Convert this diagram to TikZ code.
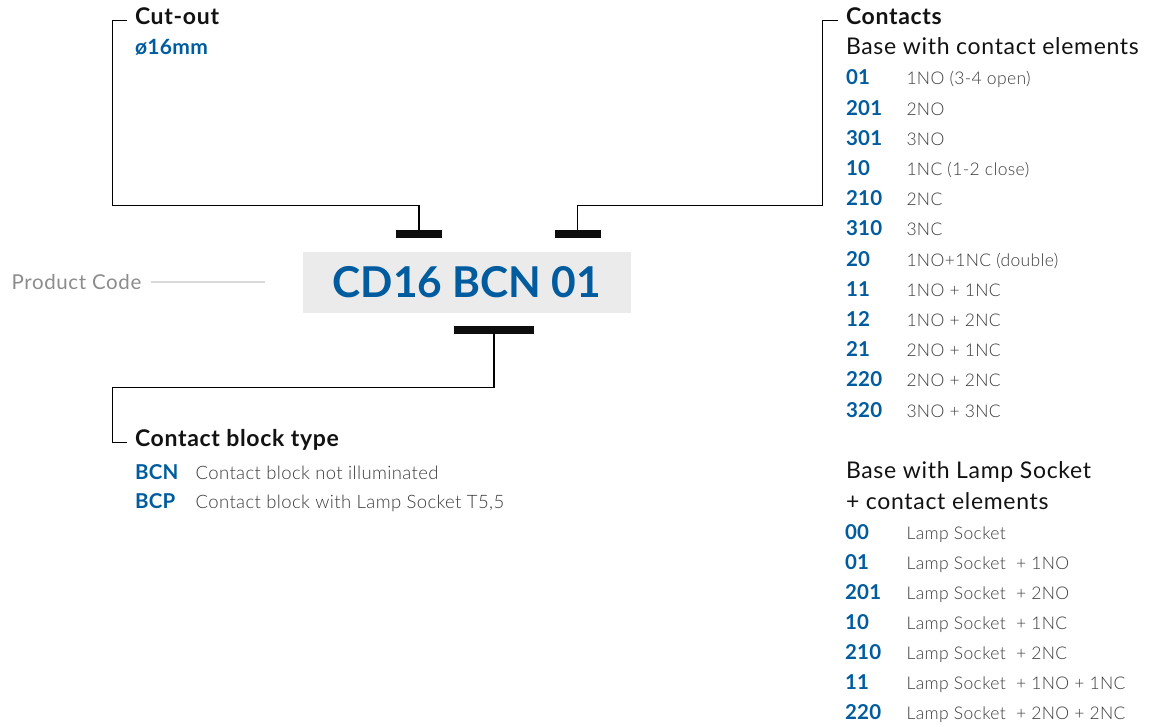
\documentclass[tikz,border=0pt]{standalone}
\usepackage{fontspec}
\setmainfont{Lato}
\newfontfamily\latotrack{Lato}[LetterSpace=3.0]
\newfontfamily\latocode{Lato}[LetterSpace=1.5]
\newfontfamily\latolight{Lato Light}[LetterSpace=2.0]
\definecolor{codeblue}{HTML}{005C9E}
\definecolor{boxgray}{HTML}{EBEBEB}
\definecolor{desctext}{HTML}{3A3A3A}
\definecolor{pcgray}{HTML}{8C8C8C}
\definecolor{pclinecol}{HTML}{D9D9D9}
\begin{document}
\begin{tikzpicture}[x=1pt,y=-1pt,
 txt/.style={anchor=base west, inner sep=0pt, outer sep=0pt},
 head/.style={txt, font=\latotrack\fontsize{23}{27}\selectfont\bfseries, text=black!93},
 sub/.style={txt, font=\latotrack\fontsize{23}{27}\selectfont, text=black!93},
 codetxt/.style={txt, font=\latocode\fontsize{20.5}{24}\selectfont\bfseries, text=codeblue},
 desctxt/.style={txt, font=\latolight\fontsize{17.5}{21}\selectfont, text=desctext},
 bigdesc/.style={txt, font=\latolight\fontsize{18.5}{22}\selectfont, text=desctext},
 conn/.style={draw=black, line width=1.3pt},
 bar/.style={fill=black!95, draw=none, inner sep=0pt, minimum height=7.5pt},
 pcline/.style={draw=pclinecol, line width=2pt},
]
\useasboundingbox (0,0) rectangle (1157,727);

% product code box
\node[fill=boxgray, minimum width=328.3pt, minimum height=61pt, inner sep=0pt,
      text=codeblue, font=\fontsize{42.5}{50}\selectfont\bfseries] (code) at (466.85,282.2) {CD16 BCN 01};
\node[txt, font=\latotrack\fontsize{20.5}{24}\selectfont, text=pcgray] (pclabel) at (11.7,289.3) {Product Code};
\coordinate (pcend) at (265,282.3);
\draw[pcline] ([xshift=10pt]pclabel.east |- pcend) -- (pcend);

% bars
\node[bar, minimum width=46pt] (barcut) at (419,233.8) {};
\node[bar, minimum width=45.7pt] (barcon) at (577.8,233.8) {};
\node[bar, minimum width=80pt] (barbcn) at (494,330) {};

% connectors
\coordinate (cutturn) at (112.3,205.7);
\coordinate (cuttick) at (127,20.5);
\coordinate (conturn) at (822.7,205.7);
\coordinate (contick) at (838,20.5);
\coordinate (bcnturn) at (112.3,387.3);
\coordinate (bcntick) at (127,442.3);
\draw[conn] (barcut.north) |- (cutturn) |- (cuttick);
\draw[conn] (barcon.north) |- (conturn) |- (contick);
\draw[conn] (barbcn.south) |- (bcnturn) |- (bcntick);

% cut-out
\node[head] (cuthead) at (135,25) {Cut-out};
\node[txt, font=\latocode\fontsize{21}{25}\selectfont\bfseries, text=codeblue] (cutsize) at (135,55) {ø16mm};

% contact block type
\node[head] (bcnhead) at (135,446.7) {Contact block type};
\node[codetxt] (bcn) at (135,479) {BCN};
\node[bigdesc] (bcnd) at (195.7,479) {Contact block not illuminated};
\node[codetxt] (bcp) at (135,508.3) {BCP};
\node[bigdesc] (bcpd) at (195.7,508.3) {Contact block with Lamp Socket T5,5};

% contacts
\node[head] (conhead) at (846,25) {Contacts};
\node[sub] (consub) at (846,54.3) {Base with contact elements};
\foreach \c/\d [count=\i] in {01/{1NO (3-4 open)}, 201/2NO, 301/3NO, 10/{1NC (1-2 close)}, 210/2NC, 310/3NC,
   20/{1NO+1NC (double)}, 11/{1NO + 1NC}, 12/{1NO + 2NC}, 21/{2NO + 1NC}, 220/{2NO + 2NC}, 320/{3NO + 3NC}}{
  \node[codetxt] (ca\i) at (846,{85+30.2*(\i-1)}) {\c};
  \node[desctxt] (da\i) at (906.5,{85+30.2*(\i-1)}) {\d};
}

\node[sub] (lampsub1) at (846,478.3) {Base with Lamp Socket};
\node[sub] (lampsub2) at (846,509) {+ contact elements};
\foreach \c/\d [count=\i] in {00/{Lamp Socket}, 01/{Lamp Socket~ + 1NO}, 201/{Lamp Socket~ + 2NO},
   10/{Lamp Socket~ + 1NC}, 210/{Lamp Socket~ + 2NC}, 11/{Lamp Socket~ + 1NO + 1NC}, 220/{Lamp Socket~ + 2NO + 2NC}}{
  \node[codetxt] (cb\i) at (845,{539.3+30*(\i-1)}) {\c};
  \node[desctxt] (db\i) at (906.7,{539.3+30*(\i-1)}) {\d};
}
\end{tikzpicture}
\end{document}
